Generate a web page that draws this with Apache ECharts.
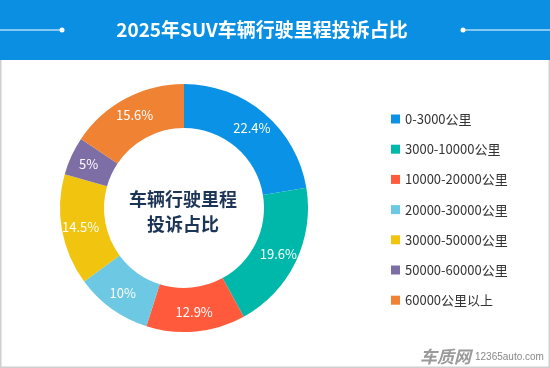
<!DOCTYPE html>
<html><head><meta charset="utf-8">
<script src="https://cdn.jsdelivr.net/npm/echarts@6/dist/echarts.min.js"></script>
<style>html,body{margin:0;padding:0;background:#fff}#c{width:550px;height:368px}</style>
</head><body><div id="c"></div>
<script>
const categories = ['0-3000公里','3000-10000公里','10000-20000公里','20000-30000公里','30000-50000公里','50000-60000公里','60000公里以上'];
const values = [22.4, 19.6, 12.9, 10, 14.5, 5, 15.6];
const colors = ['#0a93e6','#00b8a9','#ff5a3c','#6cc8e3','#f1c40f','#7d6fa6','#ef8233'];
const chartTitle = '2025年SUV车辆行驶里程投诉占比';
const centerText = '车辆行驶里程\n投诉占比';

const font = '"Noto Sans CJK SC", "Noto Sans", sans-serif';
const chart = echarts.init(document.getElementById('c'), null, {renderer:'canvas'});
chart.setOption({
  animation:false,
  textStyle:{fontFamily:font},
  graphic:[
    {type:'rect', shape:{x:0,y:0,width:550,height:368}, style:{fill:'#fff', stroke:'#cfcfcf', lineWidth:3}, z:-10},
    {type:'rect', shape:{x:0,y:0,width:550,height:60}, style:{fill:'#0b8fe2'}, z:-5},
    {type:'line', shape:{x1:0,y1:30,x2:62,y2:30}, style:{stroke:'#fff', lineWidth:1}},
    {type:'circle', shape:{cx:62,cy:30,r:2.5}, style:{fill:'#fff'}},
    {type:'line', shape:{x1:463,y1:30,x2:550,y2:30}, style:{stroke:'#fff', lineWidth:1}},
    {type:'circle', shape:{cx:463,cy:30,r:2.5}, style:{fill:'#fff'}},
    {type:'text', x:262, y:30, style:{text:chartTitle, fill:'#fff', font:'bold 19px '+font, textAlign:'center', textVerticalAlign:'middle'}},
    {type:'text', x:183, y:212, style:{text:centerText, fill:'#1c3456', font:'bold 18px '+font, textAlign:'center', textVerticalAlign:'middle', lineHeight:25}},
    {type:'text', x:420, y:357, style:{text:'车质网', fill:'#9a9a9a', font:'italic bold 17px '+font, textVerticalAlign:'middle'}},
    {type:'text', x:475, y:357, style:{text:'12365auto.com', fill:'#888', font:'10px Arial, sans-serif', textVerticalAlign:'middle'}}
  ],
  legend:{
    orient:'vertical', left:386, top:105, itemWidth:9, itemHeight:9, itemGap:12.2,
    icon:'rect', textStyle:{fontSize:13, color:'#333', fontFamily:font, lineHeight:18},
    data:categories
  },
  series:[{
    type:'pie', center:[184,208], radius:[80,124], startAngle:90, clockwise:true,
    label:{show:true, position:'inside', color:'#fff', fontSize:13, fontFamily:font, formatter:p=>p.value+'%'},
    labelLine:{show:false},
    emphasis:{disabled:true},
    data:categories.map((c,i)=>({name:c, value:values[i], itemStyle:{color:colors[i]}}))
  }]
});
</script></body></html>
